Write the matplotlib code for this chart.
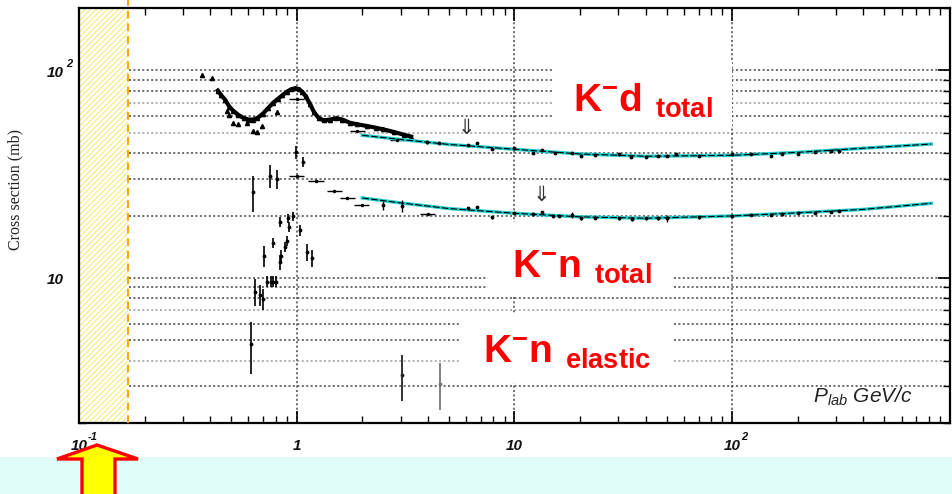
import numpy as np
import matplotlib
matplotlib.use('Agg')
import matplotlib.pyplot as plt
from matplotlib.patches import Rectangle, Polygon
import matplotlib.transforms as mtransforms

# ---- data ----
# K-d total, dense low-momentum data (drawn as a thick band)
kd_low_x = [0.434, 0.45, 0.47, 0.49, 0.51, 0.54, 0.57, 0.60, 0.63, 0.66, 0.70, 0.74, 0.78, 0.82,
            0.86, 0.90, 0.94, 0.98, 1.02, 1.06, 1.10, 1.15, 1.20, 1.26, 1.33, 1.42, 1.52, 1.62,
            1.75, 1.90, 2.10, 2.30, 2.50, 2.80, 3.10, 3.35]
kd_low_y = [80, 76, 72, 67, 64, 61, 59, 58, 58, 59, 62, 66, 70, 73,
            76, 79, 81, 82, 81.5, 79, 75, 69, 63, 59, 57.5, 58, 58.8, 58,
            56, 55, 54, 53, 52, 50.5, 49, 48]
# K-d scattered low-momentum points
kd_sc_x = [0.367, 0.41, 0.477, 0.49, 0.51, 0.54, 0.59, 0.63, 0.66, 0.69, 0.81]
kd_sc_y = [95, 91.5, 64, 60.9, 55.6, 55.0, 55.6, 51, 50.3, 54, 62.9]
# K-d points with horizontal bars
kd_cr_x = [1.0, 1.9, 2.9]
kd_cr_y = [73, 51, 46]
# K-d total, high momentum
kd_hi_x = [3.95, 4.5, 6.1, 6.7, 7.9, 10, 12.1, 13.4, 15.3, 18.4, 20.3, 23.5, 30.3, 34.4,
           40.2, 45.4, 50.3, 55, 70.5, 100, 122, 150, 170, 200, 240, 285, 310]
kd_hi_y = [45, 44.6, 43.6, 44.6, 41.7, 42.1, 39.9, 41.3, 40, 40, 38.6, 39.1, 39.5, 38.2,
           38.2, 38.6, 38.6, 39.5, 38.6, 39.5, 39.5, 38.6, 39.5, 39.5, 40.3, 40.8, 40.8]
# K-d fit
kd_fit_x = [2, 3, 5, 10, 20, 40, 100, 200, 400, 820]
kd_fit_y = [48.7, 46.5, 44, 41.7, 39.6, 38.6, 39, 40.3, 42.2, 44.2]

# K-n total, low momentum with horizontal bars
kn_low_x = [1.0, 1.23, 1.49, 1.71, 1.99, 4.0]
kn_low_y = [31, 29.3, 26.2, 24.3, 22.4, 20.3]
# K-n total, high momentum
kn_hi_x = [2.48, 3.03, 6.1, 6.7, 7.9, 10, 12.1, 13.4, 15, 16, 18.3, 20.3, 23.5, 30.3, 34.7,
           40.2, 45.4, 50, 70.5, 100, 122, 150, 170, 200, 240, 285, 310]
kn_hi_y = [22.4, 22.2, 21.7, 22, 19.6, 20.6, 20.3, 20.8, 19.9, 19.9, 20.1, 19.4, 19.5, 19.4, 19.2,
           19.4, 19.4, 19.4, 19.6, 19.9, 20.1, 20.1, 20.3, 20.6, 20.6, 20.8, 21]
kn_hi_err = [1.2, 1.5, 0.3, 0.3, 0.3, 0.3, 0.3, 0.3, 0.3, 0.3, 0.6, 0.3, 0.3, 0.3, 0.3,
             0.3, 0.3, 0.8, 0.3, 0.3, 0.3, 0.3, 0.3, 0.3, 0.3, 0.3, 0.3]
# K-n fit
kn_fit_x = [2, 3, 5, 10, 20, 40, 100, 200, 400, 820]
kn_fit_y = [24.3, 23, 21.6, 20.5, 19.7, 19.4, 19.9, 20.6, 21.4, 22.9]

# resonance region points (K-n total / elastic), with vertical errors
res_x = [0.628, 0.752, 0.81, 0.99, 1.07, 0.835, 0.91, 0.92, 0.96, 1.04, 0.776, 0.705, 0.835,
         0.85, 0.88, 0.90, 1.11, 1.17, 0.73, 0.76, 0.78, 0.80, 0.64, 0.68, 0.70, 0.615]
res_y = [25.9, 31, 30, 40.4, 36.1, 18.6, 19.4, 17.6, 19.9, 17.0, 14.7, 12.8, 11.9,
         12.8, 14.1, 15.1, 13.3, 12.5, 9.6, 9.6, 9.6, 9.6, 8.6, 8.3, 7.9, 4.8]
res_err = [5, 4, 3.3, 3, 2, 1, 1, 1, 1, 1, 0.8, 1.5, 1,
           0.8, 0.8, 0.8, 1.2, 1.2, 0.6, 0.6, 0.6, 0.6, 1.3, 1, 0.9, 1.35]
# K-n elastic at higher momentum
el_x = [3.03, 4.53]
el_y = [3.4, 3.1]
el_err = [0.85, 0.78]

# down arrows
arrow_x = [6.0, 13.3]
arrow_y = [52.6, 25.1]

grid_dark = [3, 5, 6, 8, 9, 10, 20, 30, 40, 60, 80, 90, 100]
grid_light = [4, 7, 50, 70]

# ---- figure ----
fig = plt.figure(figsize=(9.53, 4.94), dpi=100)
ax = fig.add_axes([79 / 953, 1 - 423 / 494, 871 / 953, 415 / 494])
ax.set_xscale('log')
ax.set_yscale('log')
ax.set_xlim(0.1, 1000)
ax.set_ylim(2, 200)

# bottom light cyan band and arrow
fig.patches.append(Rectangle((0, 0), 1, 37 / 494, transform=fig.transFigure,
                             facecolor='#e0fcf8', edgecolor='none', zorder=0))
arr_px = [(97, 445), (138, 459), (115, 459), (115, 500), (82, 500), (82, 459), (57, 459)]
arr = Polygon([(px / 953, 1 - py / 494) for px, py in arr_px], closed=True,
              transform=fig.transFigure, facecolor='#ffff00', edgecolor='#ff0000',
              linewidth=2.4, joinstyle='miter', zorder=1)
fig.patches.append(arr)

# grid
ax.hlines(grid_dark, 0.17, 1000, colors='#444444', linestyles=(0, (1.3, 1.6)), lw=1.1, zorder=1)
ax.hlines(grid_light, 0.17, 1000, colors='#9a9a9a', linestyles=(0, (1.3, 1.6)), lw=1.1, zorder=1)
for xv in [1, 10, 100]:
    ax.axvline(xv, color='#444444', ls=(0, (1.3, 1.6)), lw=1.1, zorder=1)

# hatched excluded region + orange line
plt.rcParams['hatch.linewidth'] = 0.8
ax.axvspan(0.1, 0.168, facecolor='white', edgecolor='#f5ea7a', hatch='//////', linewidth=0, zorder=2)
bt = mtransforms.blended_transform_factory(ax.transData, ax.transAxes)
ax.plot([0.168, 0.168], [0, 1.02], transform=bt, color='#ffa500', ls=(0, (4, 2.5)), lw=1.4,
        clip_on=False, zorder=5)

# white boxes behind labels (axes fraction)
for x0, y0, x1, y1 in [(0.544, 0.713, 0.750, 0.875), (0.470, 0.308, 0.682, 0.484),
                       (0.437, 0.096, 0.682, 0.265)]:
    ax.add_patch(Rectangle((x0, y0), x1 - x0, y1 - y0, transform=ax.transAxes,
                           facecolor='white', edgecolor='none', zorder=1.5))

# data
ax.plot(kd_low_x, kd_low_y, color='black', lw=3, zorder=3)
ax.plot(kd_low_x, kd_low_y, ls='none', marker='^', ms=3, color='black', zorder=3)
ax.plot(kd_sc_x, kd_sc_y, ls='none', marker='^', ms=3, color='black', zorder=3)
ax.errorbar(kd_cr_x, kd_cr_y, xerr=[np.array(kd_cr_x) * 0.08, np.array(kd_cr_x) * 0.08],
            fmt='.', ms=3, color='black', elinewidth=1, capsize=0, zorder=3)

ax.plot(kd_fit_x, kd_fit_y, color='#22cccc', lw=2.4, zorder=3)
ax.plot(kd_fit_x, kd_fit_y, color='black', lw=0.8, ls=(0, (6, 2)), zorder=3.2)
ax.plot(kn_fit_x, kn_fit_y, color='#22cccc', lw=2.4, zorder=3)
ax.plot(kn_fit_x, kn_fit_y, color='black', lw=0.8, ls=(0, (6, 2)), zorder=3.2)

ax.errorbar(kd_hi_x, kd_hi_y, yerr=np.array(kd_hi_y) * 0.012, fmt='.', ms=3.5, color='black',
            elinewidth=1, capsize=0, zorder=3.5)
ax.errorbar(kn_hi_x, kn_hi_y, yerr=kn_hi_err, fmt='.', ms=3.5, color='black',
            elinewidth=1, capsize=0, zorder=3.5)
ax.errorbar(kn_low_x, kn_low_y, xerr=[np.array(kn_low_x) * 0.08, np.array(kn_low_x) * 0.08],
            fmt='.', ms=3, color='black', elinewidth=1, capsize=0, zorder=3)
ax.errorbar(res_x, res_y, yerr=res_err, fmt='.', ms=3.5, color='black', elinewidth=1.2,
            capsize=0, zorder=3)
ax.errorbar(el_x[:1], el_y[:1], yerr=el_err[:1], fmt='.', ms=3.5, color='#222222',
            elinewidth=1.3, capsize=0, zorder=3)
ax.errorbar(el_x[1:], el_y[1:], yerr=el_err[1:], fmt='.', ms=3.5, color='#777777',
            elinewidth=1.3, capsize=0, zorder=3)

for xa, ya in zip(arrow_x, arrow_y):
    ax.text(xa, ya, '\u21d3', ha='center', va='center', fontsize=15, color='#333333',
            family='DejaVu Sans', zorder=4)

# big red labels
red = dict(color='#ff0000', fontsize=28, fontweight='bold', family='Liberation Sans',
           transform=ax.transAxes, va='baseline', ha='left', zorder=6)
ax.text(0.567, 0.749, r'$\mathregular{K^{-}d\ {}_{total}}$', **red)
ax.text(0.497, 0.349, r'$\mathregular{K^{-}n\ {}_{total}}$', **red)
ax.text(0.464, 0.145, r'$\mathregular{K^{-}n\ {}_{elastic}}$', **red)

ax.text(0.843, 0.048, r'$\mathregular{P_{lab}}$ GeV/c', transform=ax.transAxes, fontsize=15,
        style='italic', family='Liberation Sans', color='#222222', va='baseline', zorder=6)

# axes styling
for s in ax.spines.values():
    s.set_linewidth(1.6)
ax.tick_params(which='both', direction='in', top=True, right=True, labelbottom=False,
               labelleft=False)
ax.tick_params(which='major', length=9, width=1.2)
ax.tick_params(which='minor', length=5, width=1.0)

# tick labels drawn by hand (bold italic with superscripts)
tl = dict(fontsize=11, fontweight='bold', style='italic', family='Liberation Sans', color='#111111')
xlab_vals = [0.1, 1, 10, 100]
xlab_base = ['10', '1', '10', '10']
xlab_exp = ['-1', '', '', '2']
for xv, b, e in zip(xlab_vals, xlab_base, xlab_exp):
    ax.annotate(b, xy=(xv, -0.055), xycoords=bt, ha='center', va='center',
                annotation_clip=False, **tl)
    if e:
        ax.annotate(e, xy=(xv, -0.055), xycoords=bt, xytext=(6.5, 6), textcoords='offset points',
                    ha='left', va='center', annotation_clip=False,
                    **{**tl, 'fontsize': 8})
bt_y = mtransforms.blended_transform_factory(ax.transAxes, ax.transData)
ylab_vals = [10, 100]
ylab_exp = ['', '2']
for yv, e in zip(ylab_vals, ylab_exp):
    ax.annotate('10', xy=(-0.018, yv), xycoords=bt_y, ha='right', va='center',
                xytext=(0, -1.5), textcoords='offset points', annotation_clip=False, **tl)
    if e:
        ax.annotate(e, xy=(-0.016, yv), xycoords=bt_y, xytext=(1, 4.5), textcoords='offset points',
                    ha='left', va='center', annotation_clip=False, **{**tl, 'fontsize': 8})

fig.text(15 / 953, 1 - 190 / 494, 'Cross section (mb)', rotation=90, ha='center', va='center',
         family='Liberation Serif', fontsize=11.5, color='#222222')

fig.savefig('out.png', dpi=100)
